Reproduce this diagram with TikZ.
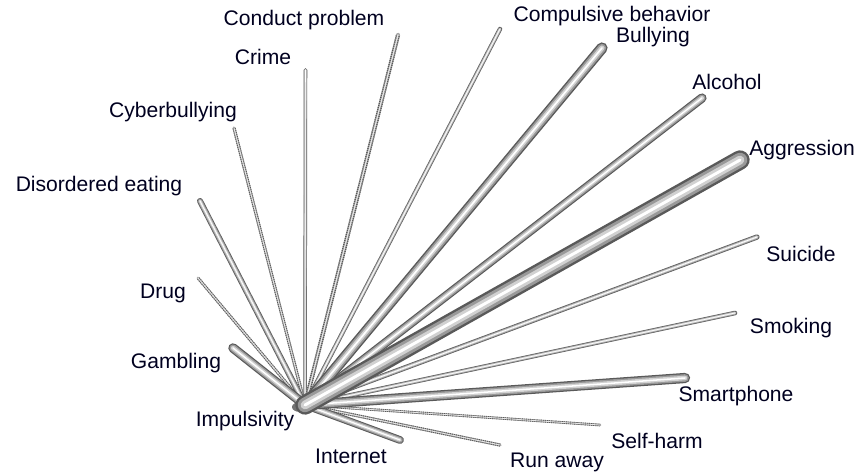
\documentclass[tikz,border=0pt]{standalone}
\usepackage{fontspec}
\setmainfont{Liberation Sans}
\usetikzlibrary{positioning}

% a shaded tube from #1 to #2, #3 = width in pt
\newcommand{\drawtube}[3]{%
  \draw[line cap=round, line width={#3pt}, black!65] (#1) -- (#2);
  \draw[line cap=round, line width={0.75*#3pt}, black!40] (#1) -- (#2);
  \draw[line cap=round, line width={0.45*#3pt}, black!18] (#1) -- (#2);
  \draw[line cap=round, line width={0.15*#3pt}, white] (#1) -- (#2);
}
% a thin grainy tube
\newcommand{\drawgrain}[3]{%
  \draw[line cap=round, line width={#3pt}, black!35] (#1) -- (#2);
  \draw[line width={#3pt}, black!65, dash pattern=on 0.6pt off 0.6pt] (#1) -- (#2);
  \draw[line cap=round, line width={0.3*#3pt}, black!10] (#1) -- (#2);
}

\begin{document}
\begin{tikzpicture}[x=0.2mm,y=-0.2mm,every node/.style={font=\fontsize{12}{14}\selectfont,text=black!88!blue}]
\useasboundingbox (0,0) rectangle (860,473);
% hub and spoke ends
\coordinate (imp) at (305,405);
\coordinate (crime) at (305.5,70);
\coordinate (conduct) at (398,35);
\coordinate (compuls) at (500,29);
\coordinate (bully) at (602,48);
\coordinate (alcohol) at (702,98);
\coordinate (aggr) at (740,160);
\coordinate (suicide) at (757,237);
\coordinate (smoking) at (735,313);
\coordinate (phone) at (685,378);
\coordinate (selfharm) at (600,425);
\coordinate (runaway) at (500,445);
\coordinate (internet) at (400,440);
\coordinate (gambling) at (233,348);
\coordinate (drug) at (198,278);
\coordinate (eating) at (200,201);
\coordinate (cyber) at (234,128);

% labels
\node (limp) at (245,421) {Impulsivity};
\node (lcrime) at (263,57) {Crime};
\node (lconduct) at (304,20) {Conduct problem};
\node (lcompuls) at (612,16) {Compulsive behavior};
\node (lbully) at (653,37) {Bullying};
\node (lalcohol) at (727,82) {Alcohol};
\node (laggr) at (802,150) {Aggression};
\node (lsuicide) at (801,254) {Suicide};
\node (lsmoking) at (791,328) {Smoking};
\node (lphone) at (736,396) {Smartphone};
\node (lselfharm) at (657,441) {Self-harm};
\node (lrunaway) at (557,462) {Run away};
\node (linternet) at (351,456) {Internet};
\node (lgambling) at (176,363) {Gambling};
\node (ldrug) at (163,293) {Drug};
\node (leating) at (99,186) {Disordered eating};
\node (lcyber) at (173,112) {Cyberbullying};

% hub blob
\fill[black!55] (300,407) ellipse [x radius=8, y radius=5];

% spokes, thin ones first
\drawgrain{imp}{selfharm}{1.5}
\drawgrain{imp}{runaway}{1.8}
\drawgrain{imp}{drug}{1.7}
\drawgrain{imp}{cyber}{1.8}
\drawtube{imp}{crime}{2}
\drawgrain{imp}{conduct}{2.4}
\drawtube{imp}{compuls}{2.5}
\drawtube{imp}{smoking}{2.6}
\drawtube{imp}{suicide}{3}
\drawtube{imp}{eating}{3.4}
\drawtube{imp}{internet}{4.4}
\drawtube{imp}{gambling}{5.4}
\drawtube{imp}{alcohol}{5.2}
\drawtube{imp}{phone}{5.8}
\drawtube{imp}{bully}{6.4}
\drawtube{imp}{aggr}{11}
\end{tikzpicture}
\end{document}
